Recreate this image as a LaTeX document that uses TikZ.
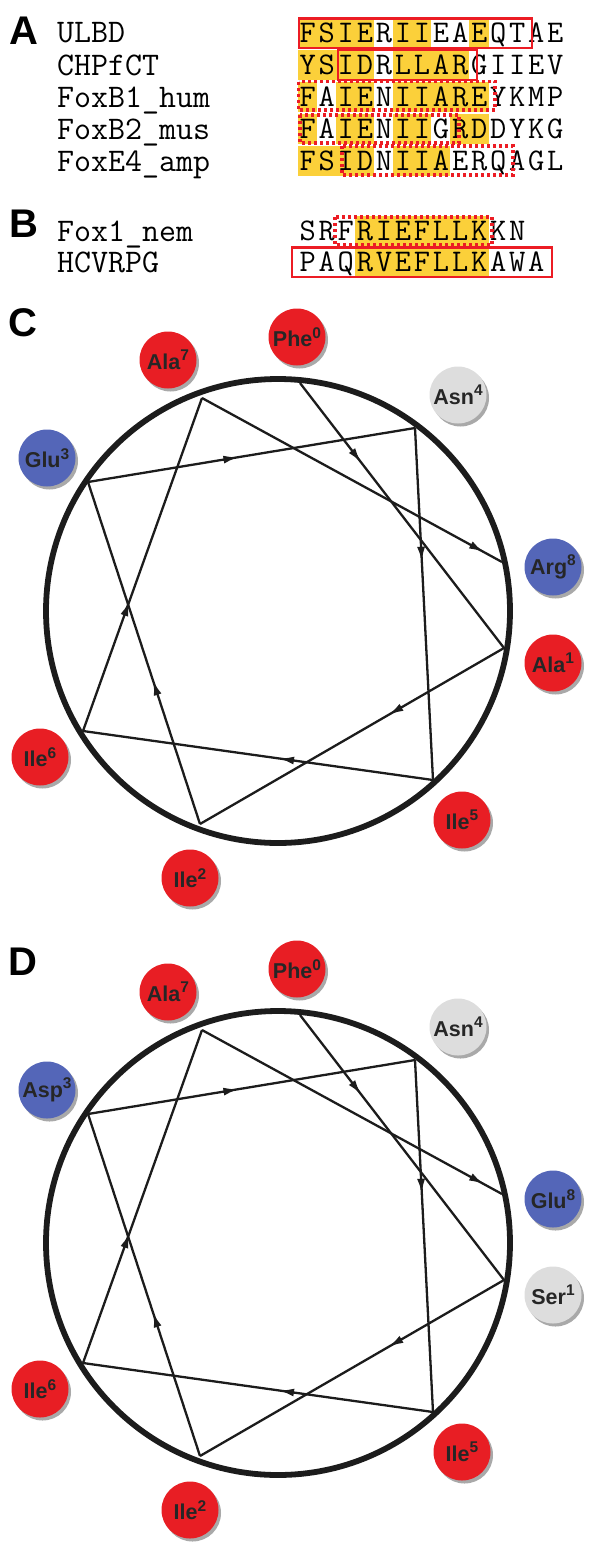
\documentclass[tikz,border=0pt]{standalone}
\usepackage{fontspec}
\setmainfont{Liberation Sans}
\usetikzlibrary{arrows.meta,decorations.markings,shadows}
\definecolor{hlyellow}{RGB}{251,208,58}
\definecolor{boxred}{RGB}{236,28,36}
\definecolor{resred}{RGB}{232,30,36}
\definecolor{resblue}{RGB}{84,102,184}
\definecolor{resgray}{RGB}{221,221,221}
\definecolor{ink}{RGB}{28,28,28}
\newcommand\sups[1]{\raisebox{8.5pt}{\fontsize{15.5}{15.5}\selectfont #1}}
\makeatletter
\newcommand\seqcells[1]{\@tfor\seqch:=#1\do{\makebox[19.05pt][c]{\seqch}}}
\makeatother
\begin{document}
\begin{tikzpicture}[x=1pt,y=-1pt,
  panellabel/.style={font=\fontsize{40}{40}\selectfont\bfseries,inner sep=0},
  seqname/.style={font=\ttfamily\fontsize{33}{33}\selectfont,anchor=base west,inner sep=0},
  seqtext/.style={font=\ttfamily\fontsize{31.5}{31.5}\selectfont,anchor=base west,inner sep=0},
  hl/.style={fill=hlyellow},
  solidbox/.style={draw=boxred,line width=2.6pt},
  dotbox/.style={draw=boxred,line width=3.2pt,dash pattern=on 3pt off 3pt},
  ring/.style={draw=ink,line width=5.8pt},
  helixline/.style={ink,line width=2.3pt},
  arrowmid/.style={postaction={decorate},decoration={markings,mark=at position #1 with {\arrow{Latex[length=15pt,width=8pt]}}}},
  residue/.style={circle,minimum size=57pt,inner sep=0,font=\fontsize{21.5}{21.5}\selectfont\bfseries,text=black!85,drop shadow={shadow xshift=2.5pt,shadow yshift=-3pt,opacity=0.45,fill=black!75}},
  resR/.style={residue,fill=resred},
  resB/.style={residue,fill=resblue},
  resG/.style={residue,fill=resgray},
]
\useasboundingbox (0,0) rectangle (600,1555);

% ---------------- Panel A ----------------
\node[panellabel] (labA) at (24,31) {A};
% yellow highlights
\fill[hl] (298,18) rectangle (374.2,48);
\fill[hl] (393.25,18) rectangle (431.35,48);
\fill[hl] (469.45,18) rectangle (488.5,48);
\fill[hl] (298,50) rectangle (374.2,80);
\fill[hl] (393.25,50) rectangle (469.45,80);
\fill[hl] (298,82) rectangle (317.05,112);
\fill[hl] (336.1,82) rectangle (374.2,112);
\fill[hl] (393.25,82) rectangle (488.5,112);
\fill[hl] (298,114) rectangle (317.05,144);
\fill[hl] (336.1,114) rectangle (374.2,144);
\fill[hl] (393.25,114) rectangle (431.35,144);
\fill[hl] (450.4,114) rectangle (488.5,144);
\fill[hl] (298,146) rectangle (374.2,176);
\fill[hl] (393.25,146) rectangle (450.4,176);
% names
\node[seqname] (nA1) at (57,43) {ULBD};
\node[seqname] (nA2) at (57,75) {CHPfCT};
\node[seqname] (nA3) at (57,107) {FoxB1\_hum};
\node[seqname] (nA4) at (57,139) {FoxB2\_mus};
\node[seqname] (nA5) at (57,171) {FoxE4\_amp};
% sequences
\node[seqtext] (sA1) at (298,42.5) {\seqcells{FSIERIIEAEQTAE}};
\node[seqtext] (sA2) at (298,74.5) {\seqcells{YSIDRLLARGIIEV}};
\node[seqtext] (sA3) at (298,106.5) {\seqcells{FAIENIIAREYKMP}};
\node[seqtext] (sA4) at (298,138.5) {\seqcells{FAIENIIGRDDYKG}};
\node[seqtext] (sA5) at (298,170.5) {\seqcells{FSIDNIIAERQAGL}};
% boxes
\draw[solidbox] (299,18.5) rectangle (532,48);
\draw[solidbox] (338,50) rectangle (477,80);
\draw[dotbox] (298.5,81.5) rectangle (495,110);
\draw[dotbox] (300,115) rectangle (459,143);
\draw[dotbox] (342,146) rectangle (513,175);

% ---------------- Panel B ----------------
\node[panellabel] (labB) at (24,224) {B};
\fill[hl] (355.15,216) rectangle (488.5,246);
\fill[hl] (355.15,247) rectangle (488.5,277);
\node[seqname] (nB1) at (57,241) {Fox1\_nem};
\node[seqname] (nB2) at (57,272) {HCVRPG};
\node[seqtext] (sB1) at (298,240.5) {\seqcells{SRFRIEFLLKKN}};
\node[seqtext] (sB2) at (298,271.5) {\seqcells{PAQRVEFLLKAWA}};
\draw[dotbox] (335,217) rectangle (492,245);
\draw[solidbox] (292,247.5) rectangle (552,277);

% ---------------- Helical wheels C and D ----------------
\foreach \pre/\sh in {c/0pt,d/-632pt}{
\begin{scope}[yshift=\sh]
  \draw[ring] (278,611) circle[radius=232];
  \coordinate (\pre v0) at (300,383);
  \coordinate (\pre v1) at (504,648);
  \coordinate (\pre v2) at (200,824);
  \coordinate (\pre v3) at (88,482);
  \coordinate (\pre v4) at (415,428);
  \coordinate (\pre v5) at (433,780);
  \coordinate (\pre v6) at (83,731);
  \coordinate (\pre v7) at (202,398);
  \coordinate (\pre v8) at (502,562);
  \draw[helixline,arrowmid=0.3] (\pre v0) -- (\pre v1);
  \draw[helixline,arrowmid=0.38] (\pre v1) -- (\pre v2);
  \draw[helixline,arrowmid=0.42] (\pre v2) -- (\pre v3);
  \draw[helixline,arrowmid=0.46] (\pre v3) -- (\pre v4);
  \draw[helixline,arrowmid=0.38] (\pre v4) -- (\pre v5);
  \draw[helixline,arrowmid=0.44] (\pre v5) -- (\pre v6);
  \draw[helixline,arrowmid=0.39] (\pre v6) -- (\pre v7);
  \draw[helixline,arrowmid=0.94] (\pre v7) -- (\pre v8);
\end{scope}
}

% Panel C
\node[panellabel] (labC) at (23,323) {C};
\node[resR] (cPhe) at (297,337) {Phe\sups{0}};
\node[resR] (cAla7) at (168,360) {Ala\sups{7}};
\node[resG] (cAsn) at (458,395) {Asn\sups{4}};
\node[resB] (cGlu) at (47,458) {Glu\sups{3}};
\node[resB] (cArg) at (553,567) {Arg\sups{8}};
\node[resR] (cAla1) at (553,663) {Ala\sups{1}};
\node[resR] (cIle6) at (40,757) {Ile\sups{6}};
\node[resR] (cIle5) at (462,820) {Ile\sups{5}};
\node[resR] (cIle2) at (190,878) {Ile\sups{2}};

% Panel D
\node[panellabel] (labD) at (23,962) {D};
\node[resR] (dPhe) at (297,969) {Phe\sups{0}};
\node[resR] (dAla7) at (168,992) {Ala\sups{7}};
\node[resG] (dAsn) at (458,1027) {Asn\sups{4}};
\node[resB] (dAsp) at (47,1090) {Asp\sups{3}};
\node[resB] (dGlu) at (553,1199) {Glu\sups{8}};
\node[resG] (dSer) at (553,1295) {Ser\sups{1}};
\node[resR] (dIle6) at (40,1389) {Ile\sups{6}};
\node[resR] (dIle5) at (462,1452) {Ile\sups{5}};
\node[resR] (dIle2) at (190,1510) {Ile\sups{2}};
\end{tikzpicture}
\end{document}
